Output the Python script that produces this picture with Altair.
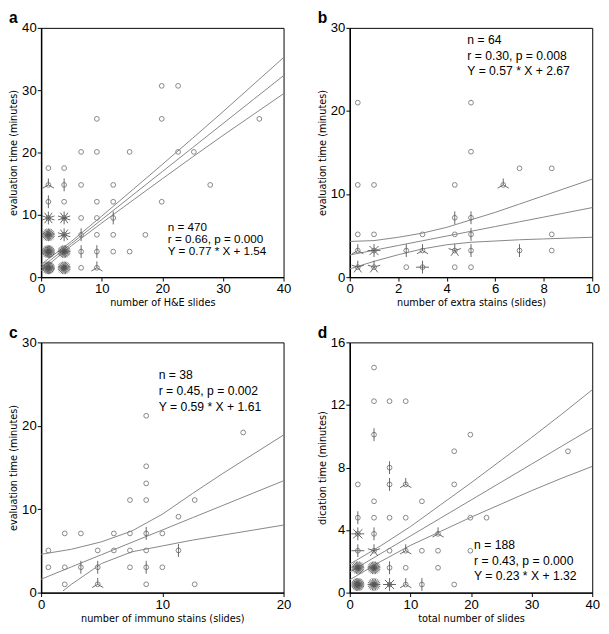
import math
import altair as alt
import pandas as pd

# ---------------- data ----------------
# panel a
a_x = [1.2, 3.8, 1.2, 3.8, 1.2, 3.8, 1.2, 3.8, 1.2, 3.8, 1.2, 3.8, 1.2, 3.8,
       6.6, 6.6, 6.6, 6.6, 6.6, 6.6,
       9.2, 9.2, 9.2, 9.2, 9.2, 9.2, 9.2,
       11.9, 11.9, 11.9, 11.9, 11.9,
       14.6, 14.6, 17.2, 19.9, 19.9, 19.9, 22.6, 22.6, 25.2, 27.9, 36.0]
a_y = [17.5, 17.5, 14.8, 14.8, 12.1, 12.1, 9.5, 9.5, 6.8, 6.8, 4.1, 4.1, 1.5, 1.5,
       20.1, 14.8, 9.5, 6.8, 4.1, 1.5,
       25.4, 20.1, 12.1, 9.5, 6.8, 4.1, 1.5,
       14.8, 12.1, 9.5, 6.8, 4.1,
       20.1, 4.1, 6.8, 30.7, 25.4, 12.1, 30.7, 20.1, 20.1, 14.8, 25.4]
a_n = [1, 1, 3, 2, 2, 1, 10, 10, 24, 10, 30, 24, 30, 24,
       1, 1, 1, 2, 2, 1,
       1, 1, 1, 1, 1, 2, 3,
       1, 1, 2, 1, 1,
       1, 1, 1, 1, 1, 1, 1, 1, 1, 1, 1]
a_fit_x = [0, 5, 10, 15, 20, 25, 30, 35, 40]
a_fit_c = [1.54, 5.39, 9.24, 13.09, 16.94, 20.79, 24.64, 28.49, 32.34]
a_fit_u = [2.04, 5.74, 9.79, 13.94, 18.09, 22.29, 26.54, 30.89, 35.24]
a_fit_l = [1.04, 5.04, 8.69, 12.24, 15.79, 19.29, 22.74, 26.09, 29.44]
a_text = ["n = 470", "r = 0.66, p = 0.000", "Y = 0.77 * X + 1.54"]
a_text_x = 20.9
a_text_y = [8.1, 6.15, 4.2]

# panel b
b_x = [0.33, 0.33, 0.33, 0.33, 0.33,
       1.0, 1.0, 1.0, 1.0,
       2.33, 2.33,
       3.0, 3.0, 3.0,
       4.33, 4.33, 4.33, 4.33, 4.33,
       5.0, 5.0, 5.0, 5.0, 5.0, 5.0,
       6.33, 7.0, 7.0, 8.33, 8.33, 8.33]
b_y = [21.0, 11.1, 5.15, 3.2, 1.2,
       11.1, 5.15, 3.2, 1.2,
       3.2, 1.2,
       5.15, 3.2, 1.2,
       11.1, 7.15, 5.15, 3.2, 1.2,
       21.0, 15.1, 7.15, 5.15, 3.2, 1.2,
       11.1, 13.1, 3.2, 13.1, 5.15, 3.2]
b_n = [1, 1, 1, 3, 5,
       1, 1, 8, 5,
       2, 1,
       1, 3, 4,
       1, 2, 1, 5, 1,
       1, 1, 2, 2, 2, 1,
       3, 1, 2, 1, 1, 1]
b_fit_x = [0, 1, 2, 3, 4, 5, 6, 7, 8, 9, 10]
b_fit_c = [2.67, 3.24, 3.81, 4.38, 4.95, 5.52, 6.09, 6.66, 7.23, 7.80, 8.37]
b_fit_u = [4.3, 4.4, 4.8, 5.3, 6.0, 6.9, 7.8, 8.8, 9.8, 10.8, 11.8]
b_fit_l = [1.0, 1.9, 2.7, 3.4, 3.9, 4.2, 4.35, 4.5, 4.6, 4.7, 4.8]
b_text = ["n = 64", "r = 0.30, p = 0.008", "Y = 0.57 * X + 2.67"]
b_text_x = 4.85
b_text_y = [28.5, 26.6, 24.8]

# panel c
c_x = [0.6, 0.6, 1.95, 1.95, 1.95, 3.28, 3.28, 4.67, 4.67, 4.67, 6.0, 6.0,
       7.33, 7.33, 7.33, 7.33,
       8.67, 8.67, 8.67, 8.67, 8.67, 8.67, 8.67, 8.67,
       10.0, 10.0, 11.33, 11.33, 12.67, 12.67, 16.67]
c_y = [5.06, 3.04, 7.1, 3.04, 1.0, 7.1, 3.04, 5.06, 3.04, 1.0, 7.1, 5.06,
       11.1, 7.1, 5.06, 3.04,
       21.2, 15.15, 13.1, 11.1, 7.1, 5.06, 3.04, 1.0,
       7.1, 3.04, 9.1, 5.06, 11.1, 1.0, 19.2]
c_n = [1, 1, 1, 1, 1, 1, 2, 1, 2, 3, 1, 1,
       1, 1, 1, 1,
       1, 1, 1, 1, 2, 1, 2, 1,
       1, 1, 1, 2, 1, 1, 1]
c_fit_cx = [0, 2.5, 5, 7.5, 10, 12.5, 15, 17.5, 20]
c_fit_c = [1.61, 3.09, 4.56, 6.04, 7.51, 8.99, 10.46, 11.94, 13.41]
c_fit_u = [4.6, 5.2, 6.1, 7.4, 9.4, 11.9, 14.3, 16.6, 18.9]
c_fit_lx = [1.8, 2.5, 5, 7.5, 10, 12.5, 15, 17.5, 20]
c_fit_l = [0.2, 1.0, 3.5, 4.9, 5.6, 6.3, 6.9, 7.5, 8.1]
c_text = ["n = 38", "r = 0.45, p = 0.002", "Y = 0.59 * X + 1.61"]
c_text_x = 9.7
c_text_y = [26.1, 24.15, 22.2]

# panel d
d_x = [1.33, 1.33, 1.33, 1.33, 1.33, 1.33,
       4.0, 4.0, 4.0, 4.0, 4.0, 4.0, 4.0, 4.0, 4.0,
       6.56, 6.56, 6.56, 6.56, 6.56, 6.56, 6.56,
       9.23, 9.23, 9.23, 9.23, 9.23, 9.23,
       11.9, 11.9, 11.9,
       14.56, 14.56, 14.56,
       17.23, 17.23, 17.23,
       19.89, 19.89, 19.89,
       22.56, 36.0]
d_y = [6.92, 4.79, 3.76, 2.68, 1.59, 0.52,
       14.39, 12.24, 10.1, 5.84, 4.79, 3.76, 2.68, 1.59, 0.52,
       12.24, 7.99, 6.92, 4.79, 2.68, 1.59, 0.52,
       12.24, 6.92, 4.79, 2.68, 1.59, 0.52,
       5.84, 2.68, 0.52,
       3.76, 2.68, 1.59,
       9.04, 6.92, 0.52,
       10.1, 4.79, 2.68,
       4.79, 9.04]
d_n = [1, 2, 8, 4, 24, 30,
       1, 1, 2, 1, 1, 2, 5, 24, 20,
       1, 2, 2, 1, 1, 2, 8,
       1, 3, 1, 3, 1, 3,
       1, 1, 2,
       3, 1, 1,
       1, 1, 1,
       1, 1, 1,
       1, 1]
d_fit_x = [0, 5, 10, 15, 20, 25, 30, 35, 40]
d_fit_c = [1.32, 2.47, 3.62, 4.77, 5.92, 7.07, 8.22, 9.37, 10.52]
d_fit_u = [1.82, 2.97, 4.22, 5.62, 7.02, 8.47, 9.92, 11.42, 12.97]
d_fit_l = [0.82, 1.97, 3.02, 3.92, 4.82, 5.67, 6.52, 7.32, 8.07]
d_text = ["n = 188", "r = 0.43, p = 0.000", "Y = 0.23 * X + 1.32"]
d_text_x = 20.5
d_text_y = [3.04, 2.01, 1.07]

# ---------------- style ----------------
W = 249
H_TOP, H_BOTTOM = 256, 257
GREY = "#858585"
PETAL_COUNTS = [2, 3, 4, 5, 8, 10, 20, 24, 30]


def petal_path(k):
    parts = []
    for i in range(k):
        a = math.pi / 2 + 2 * math.pi * i / k
        parts.append(f"M0,0L{math.cos(a):.3f},{-math.sin(a):.3f}")
    return "".join(parts)


PETAL_SHAPES = [petal_path(k) for k in PETAL_COUNTS]


def panel(letter, h, xs, ys, ns, fits, texts, tx, tys, fsize, xdom, ydom, xticks, yticks, xtitle, ytitle):
    pts = pd.DataFrame({"x": xs, "y": ys, "n": [str(v) for v in ns], "k": ns})
    fit_rows = []
    for name, fx, fy in fits:
        for a, b in zip(fx, fy):
            fit_rows.append({"x": a, "y": b, "line": name})
    fit = pd.DataFrame(fit_rows)
    txt = pd.DataFrame({"x": [tx] * len(texts), "y": tys, "t": texts})

    xscale = alt.Scale(domain=xdom, nice=False, zero=False)
    yscale = alt.Scale(domain=ydom, nice=False, zero=False)
    xaxis = alt.Axis(values=xticks, title=xtitle, labelFlush=False, grid=False)
    yaxis = alt.Axis(values=yticks, title=ytitle, grid=False)

    lines = alt.Chart(fit).mark_line(color=GREY, strokeWidth=1).encode(
        x=alt.X("x:Q", scale=xscale, axis=xaxis),
        y=alt.Y("y:Q", scale=yscale, axis=yaxis),
        detail="line:N",
    )
    circles = alt.Chart(pts).mark_point(
        shape="circle", filled=False, size=24, color=GREY, strokeWidth=1, opacity=1
    ).encode(x="x:Q", y="y:Q")
    petals = alt.Chart(pts).transform_filter("datum.k > 1").mark_point(
        filled=False, size=175, color="#555555", strokeWidth=0.9, opacity=1
    ).encode(
        x="x:Q", y="y:Q",
        shape=alt.Shape("n:N", scale=alt.Scale(domain=[str(k) for k in PETAL_COUNTS], range=PETAL_SHAPES),
                        legend=None),
    )
    text = alt.Chart(txt).mark_text(
        align="left", baseline="middle", font="Liberation Sans", fontSize=fsize, color="black"
    ).encode(x="x:Q", y="y:Q", text="t:N")

    return alt.layer(lines, circles, petals, text).properties(
        width=W, height=h,
        title=alt.TitleParams(letter, anchor="start", frame="bounds", fontSize=16, fontWeight="bold",
                              font="Liberation Sans", color="black", offset=-5),
    )


pa = panel("a", H_TOP, a_x, a_y, a_n,
           [("u", a_fit_x, a_fit_u), ("c", a_fit_x, a_fit_c), ("l", a_fit_x, a_fit_l)],
           a_text, a_text_x, a_text_y, 12, [0, 40], [0, 40], [0, 10, 20, 30, 40], [0, 10, 20, 30, 40],
           "number of H&E slides", "evaluation time (minutes)")
pb = panel("b", H_TOP, b_x, b_y, b_n,
           [("u", b_fit_x, b_fit_u), ("c", b_fit_x, b_fit_c), ("l", b_fit_x, b_fit_l)],
           b_text, b_text_x, b_text_y, 12.5, [0, 10], [0, 30], [0, 2, 4, 6, 8, 10], [0, 10, 20, 30],
           "number of extra stains (slides)", "evaluation time (minutes)")
pc = panel("c", H_BOTTOM, c_x, c_y, c_n,
           [("u", c_fit_cx, c_fit_u), ("c", c_fit_cx, c_fit_c), ("l", c_fit_lx, c_fit_l)],
           c_text, c_text_x, c_text_y, 12.5, [0, 20], [0, 30], [0, 10, 20], [0, 10, 20, 30],
           "number of immuno stains (slides)", "evaluation time (minutes)")
pd_ = panel("d", H_BOTTOM, d_x, d_y, d_n,
            [("u", d_fit_x, d_fit_u), ("c", d_fit_x, d_fit_c), ("l", d_fit_x, d_fit_l)],
            d_text, d_text_x, d_text_y, 12.5, [0, 40], [0, 16], [0, 10, 20, 30, 40],
            [0, 2, 4, 6, 8, 10, 12, 14, 16],
            "total number of slides", "dication time (minutes)")

chart = alt.vconcat(
    alt.hconcat(pa, pb, spacing=25),
    alt.hconcat(pc, pd_, spacing=25),
    spacing=16,
).properties(
    padding={"left": 0, "top": -7, "right": 0, "bottom": 0}
).configure_view(
    stroke="black", strokeWidth=1
).configure_axis(
    domainColor="black", domainWidth=1.5, tickColor="black", tickSize=4, tickWidth=1,
    labelFont="Liberation Sans", labelFontSize=13.5, labelColor="black", labelPadding=1,
    titleFont="DejaVu Sans", titleFontSize=10, titleFontWeight="normal", titleColor="black",
    titlePadding=3,
)

chart.save("out.html", embed_options={"renderer": "svg", "actions": False})
